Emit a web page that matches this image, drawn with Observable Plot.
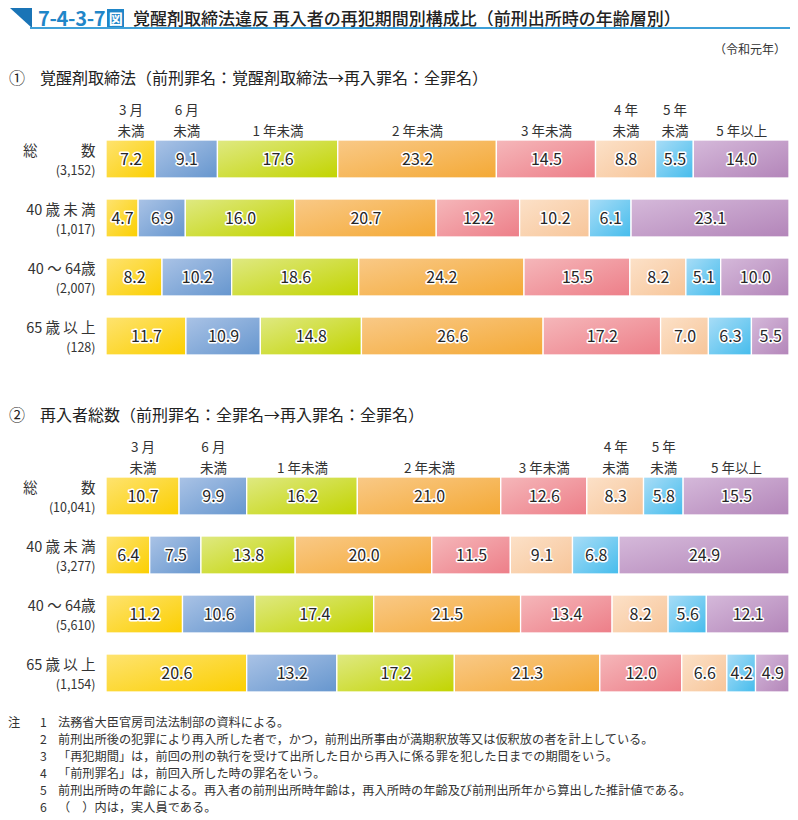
<!DOCTYPE html>
<html lang="ja">
<head>
<meta charset="utf-8">
<script src="https://cdn.jsdelivr.net/npm/d3@7"></script>
<script src="https://cdn.jsdelivr.net/npm/@observablehq/plot@0.6"></script>
<style>
  html, body { margin: 0; padding: 0; background: #fff; }
  body { font-family: "Noto Sans CJK JP", "Noto Sans", sans-serif; color: #222; }
  #page { position: relative; width: 798px; height: 820px; overflow: hidden; }
  .abs { position: absolute; white-space: nowrap; }
  #title-num { color: #1f86c8; font-weight: 700; font-size: 20px; letter-spacing: -0.3px; }
  #title-zu { display: inline-block; background: #1f86c8; color: #fff; font-size: 14px; font-weight: 700; width: 17px; height: 18px; line-height: 18px; text-align: center; margin-left: 2px; vertical-align: 2px; }
  #title-main { font-size: 17px; font-weight: 500; color: #222; }
  .section { font-size: 16px; color: #222; }
  .notes { font-size: 12.2px; color: #333; line-height: 17px; }
  .notes .row { position: relative; height: 17px; }
  .notes .num { position: absolute; left: 32px; }
  .notes .txt { position: absolute; left: 50px; }
</style>
</head>
<body>
<div id="page">
  <svg class="abs" style="left:10px;top:8px" width="23" height="21"><polygon points="0,0 22,0 22,20" fill="#1a74b6"/></svg>
  <div class="abs" style="left:30px;top:27px;width:760px;height:1.5px;background:#3ea0d8"></div>
  <div class="abs" style="left:38px;top:3px;"><span id="title-num">7-4-3-7</span><span id="title-zu">図</span></div>
  <div class="abs" id="title-main" style="left:133px;top:5px;">覚醒剤取締法違反 再入者の再犯期間別構成比（前刑出所時の年齢層別）</div>
  <div class="abs" style="right:12px;top:40px;font-size:12px;color:#333;">（令和元年）</div>

  <div class="abs section" style="left:9px;top:65px;">①</div>
  <div class="abs section" style="left:40px;top:65px;">覚醒剤取締法（前刑罪名：覚醒剤取締法→再入罪名：全罪名）</div>
  <div class="abs" id="panel1" style="left:0;top:87px;"></div>

  <div class="abs section" style="left:9px;top:402px;">②</div>
  <div class="abs section" style="left:40px;top:402px;">再入者総数（前刑罪名：全罪名→再入罪名：全罪名）</div>
  <div class="abs" id="panel2" style="left:0;top:424px;"></div>

  <div class="abs notes" style="left:8px;top:714px;width:790px;">
    <div class="row"><span>注</span><span class="num">1</span><span class="txt">法務省大臣官房司法法制部の資料による。</span></div>
    <div class="row"><span class="num">2</span><span class="txt">前刑出所後の犯罪により再入所した者で，かつ，前刑出所事由が満期釈放等又は仮釈放の者を計上している。</span></div>
    <div class="row"><span class="num">3</span><span class="txt">「再犯期間」は，前回の刑の執行を受けて出所した日から再入に係る罪を犯した日までの期間をいう。</span></div>
    <div class="row"><span class="num">4</span><span class="txt">「前刑罪名」は，前回入所した時の罪名をいう。</span></div>
    <div class="row"><span class="num">5</span><span class="txt">前刑出所時の年齢による。再入者の前刑出所時年齢は，再入所時の年齢及び前刑出所年から算出した推計値である。</span></div>
    <div class="row"><span class="num">6</span><span class="txt">（　）内は，実人員である。</span></div>
  </div>
</div>
<script>
// ---- data ----
const periods = ["3月未満", "6月未満", "1年未満", "2年未満", "3年未満", "4年未満", "5年未満", "5年以上"];
const periodHeaders = ["3 月\n未満", "6 月\n未満", "1 年未満", "2 年未満", "3 年未満", "4 年\n未満", "5 年\n未満", "5 年以上"];
const groupLabels = ["総　　　数", "40 歳 未 満", "40 ～ 64歳", "65 歳 以 上"];

const counts1 = ["(3,152)", "(1,017)", "(2,007)", "(128)"];
const values1 = [
  [7.2, 9.1, 17.6, 23.2, 14.5, 8.8, 5.5, 14.0],
  [4.7, 6.9, 16.0, 20.7, 12.2, 10.2, 6.1, 23.1],
  [8.2, 10.2, 18.6, 24.2, 15.5, 8.2, 5.1, 10.0],
  [11.7, 10.9, 14.8, 26.6, 17.2, 7.0, 6.3, 5.5]
];

const counts2 = ["(10,041)", "(3,277)", "(5,610)", "(1,154)"];
const values2 = [
  [10.7, 9.9, 16.2, 21.0, 12.6, 8.3, 5.8, 15.5],
  [6.4, 7.5, 13.8, 20.0, 11.5, 9.1, 6.8, 24.9],
  [11.2, 10.6, 17.4, 21.5, 13.4, 8.2, 5.6, 12.1],
  [20.6, 13.2, 17.2, 21.3, 12.0, 6.6, 4.2, 4.9]
];

const colorsLight = ["#fee370", "#aac3e6", "#dfe982", "#f9c987", "#f5b7ba", "#fce1c8", "#a9ddf7", "#d5b9da"];
const colorsDark  = ["#fbcf00", "#6696ce", "#c2d400", "#f4a935", "#ed7e88", "#f7c599", "#45bcec", "#b385b9"];

const FONT = '"Noto Sans CJK JP", "Noto Sans", sans-serif';

function panel(prefix, counts, values) {
  const data = [];
  groupLabels.forEach((g, i) => periods.forEach((p, j) => {
    data.push({group: g, period: p, header: periodHeaders[j], value: values[i][j]});
  }));
  const rows = groupLabels.map((g, i) => ({group: g, count: counts[i]}));

  const svg = Plot.plot({
    width: 798,
    height: 277,
    marginLeft: 106,
    marginRight: 9,
    marginTop: 52,
    marginBottom: 8.5,
    x: {axis: null, domain: [0, 1]},
    y: {axis: null, domain: groupLabels, paddingInner: 0.36, paddingOuter: 0},
    color: {type: "ordinal", domain: periods, range: periods.map((_, j) => `url(#${prefix}-g${j})`)},
    style: {fontFamily: FONT, background: "transparent", overflow: "visible"},
    marks: [
      Plot.barX(data, Plot.stackX({
        x: "value", y: "group", fill: "period", offset: "normalize",
        stroke: "#ffffff", strokeWidth: 1.3
      })),
      Plot.text(data, Plot.stackX({
        x: "value", y: "group", offset: "normalize",
        text: d => d.value.toFixed(1),
        fontSize: 16, fontWeight: 400, fill: "#262626",
        stroke: "#ffffff", strokeWidth: 3, paintOrder: "stroke"
      })),
      Plot.text(data.filter(d => d.group === groupLabels[0]), Plot.stackX({
        x: "value", offset: "normalize", text: "header",
        frameAnchor: "top", lineAnchor: "bottom", dy: -4,
        fontSize: 13.5, lineHeight: 1.5, fill: "#333"
      })),
      Plot.text(rows, {
        y: "group", text: "group", frameAnchor: "left", textAnchor: "end",
        dx: -11, dy: -8, fontSize: 14.5, fill: "#333"
      }),
      Plot.text(rows, {
        y: "group", text: "count", frameAnchor: "left", textAnchor: "end",
        dx: -11, dy: 11, fontSize: 12.5, fill: "#333"
      })
    ]
  });

  const defs = d3.select(svg).insert("defs", ":first-child");
  colorsLight.forEach((c, j) => {
    const g = defs.append("linearGradient")
      .attr("id", `${prefix}-g${j}`)
      .attr("x1", 0).attr("y1", 0).attr("x2", 1).attr("y2", 1);
    g.append("stop").attr("offset", "0%").attr("stop-color", c);
    g.append("stop").attr("offset", "100%").attr("stop-color", colorsDark[j]);
  });
  return svg;
}

document.getElementById("panel1").appendChild(panel("p1", counts1, values1));
document.getElementById("panel2").appendChild(panel("p2", counts2, values2));
</script>
</body>
</html>
